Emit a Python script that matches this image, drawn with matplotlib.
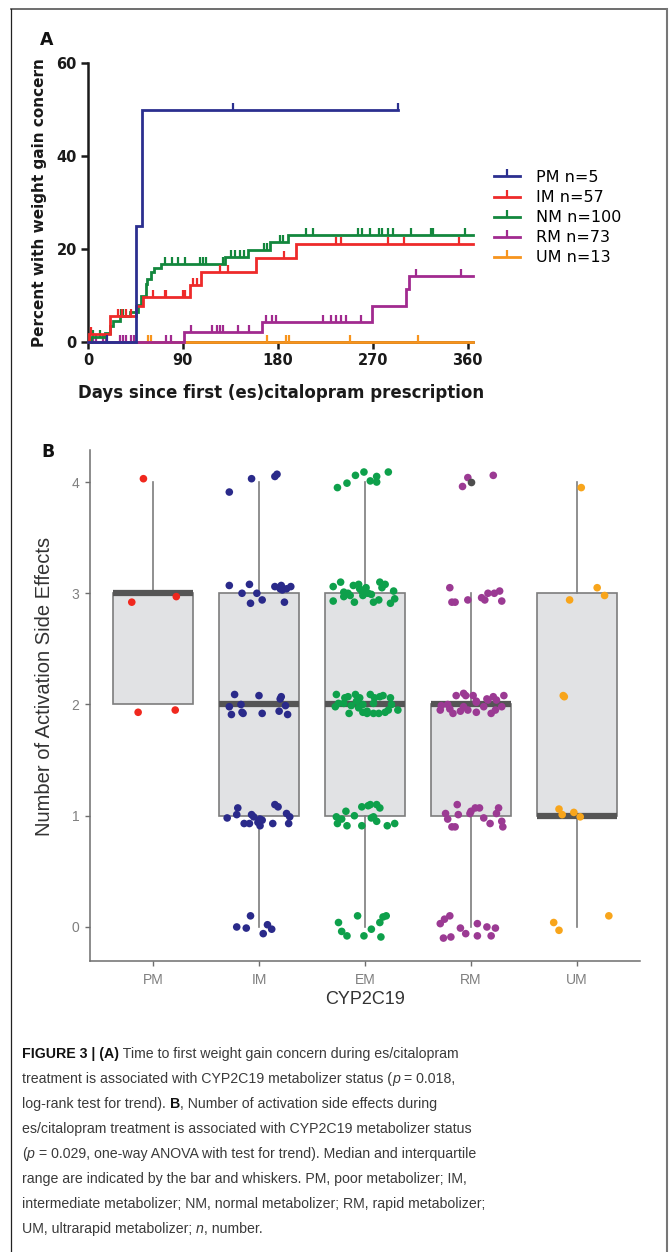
import numpy as np
import matplotlib
matplotlib.use('Agg')
import matplotlib.pyplot as plt
from matplotlib.lines import Line2D

# ---------- panel A: Kaplan-Meier style curves (days, percent) ----------
km_labels = ['PM n=5', 'IM n=57', 'NM n=100', 'RM n=73', 'UM n=13']
km_colors = ['#2b2f8f', '#ee2a2a', '#13873d', '#a12a8f', '#f7941d']

pm_t = [45.5, 51]
pm_pct = [25, 50]
pm_cens = [18, 137, 294]
pm_end = 294

im_t = [1, 20.5, 45.8, 52, 97, 107.4, 159.5, 197.3]
im_pct = [1.8, 5.5, 7.7, 9.7, 12.3, 15.0, 18.1, 21.0]
im_cens = [3, 28, 32, 36, 41, 62, 73, 74, 90, 92, 100, 103, 125, 133, 186,
           235, 240, 284, 300, 352]
im_end = 365

nm_t = [3, 16, 20.5, 23.7, 30, 39.5, 47.4, 50.5, 54.6, 56, 60, 63, 69.5,
        129.5, 151.6, 172.7, 189.5]
nm_pct = [1.0, 2.0, 3.5, 4.5, 5.5, 6.5, 8.0, 10.0, 12.5, 13.5, 15.0, 16.0,
          16.8, 18.3, 19.8, 21.4, 23.0]
nm_cens = [5, 11, 31, 33, 73, 80, 85, 92, 106, 109, 112, 128, 136, 139, 144,
           148, 167, 170, 182, 185, 207, 213, 256, 260, 267, 276, 279, 284,
           289, 306, 325, 327, 357]
nm_end = 365

rm_t = [90.6, 165, 269, 301.5, 304]
rm_pct = [2.1, 4.3, 7.7, 11.5, 14.3]
rm_cens = [5, 8, 14, 17, 30, 33, 36, 41, 44, 74, 79, 98, 118, 122, 125, 128,
           142, 153, 169, 174, 178, 223, 230, 235, 240, 245, 259, 311, 354]
rm_end = 365

um_t = []
um_pct = []
um_cens = [57, 60, 170, 188, 191, 248, 313]
um_end = 365

km_groups = [
    (pm_t, pm_pct, pm_cens, pm_end),
    (im_t, im_pct, im_cens, im_end),
    (nm_t, nm_pct, nm_cens, nm_end),
    (rm_t, rm_pct, rm_cens, rm_end),
    (um_t, um_pct, um_cens, um_end),
]

# ---------- panel B: box plot + jittered points ----------
groups = ['PM', 'IM', 'EM', 'RM', 'UM']
pt_colors = ['#f0281e', '#2a2a8a', '#0ea04b', '#9b3a93', '#f8a51b']
q1 = [2, 1, 1, 1, 1]
med = [3, 2, 2, 2, 1]
q3 = [3, 3, 3, 2, 3]
whislo = [2, 0, 0, 0, 0]
whishi = [4, 4, 4, 3, 4]
fliers = [[], [], [], [4], []]

pm_dx = [-0.09, -0.20, 0.22, -0.14, 0.21]
pm_y = [4.03, 2.92, 2.97, 1.93, 1.95]

im_dx = [-0.28, -0.07, 0.15, 0.17,
         -0.28, -0.16, -0.09, -0.08, -0.02, 0.03, 0.15, 0.21, 0.22, 0.26, 0.30, 0.24, 0.20,
         -0.23, 0.0, 0.20, 0.21, -0.28, -0.17, 0.25, -0.26, -0.16, -0.15, 0.03, 0.19, 0.27,
         -0.20, -0.21, -0.30, -0.07, -0.05, 0.01, -0.01, 0.01, -0.14, -0.09, 0.13, 0.15,
         0.18, 0.26, 0.29, 0.28, 0.03,
         -0.08, -0.21, -0.12, 0.08, 0.12, 0.04]
im_y = [3.91, 4.03, 4.05, 4.07,
        3.07, 3.0, 3.08, 2.91, 3.0, 2.94, 3.06, 3.07, 3.03, 3.04, 3.06, 2.92, 3.04,
        2.09, 2.08, 2.05, 2.07, 1.98, 2.0, 1.99, 1.91, 1.93, 1.92, 1.92, 1.94, 1.91,
        1.07, 1.01, 0.98, 1.01, 0.99, 0.97, 0.94, 0.91, 0.93, 0.93, 0.93, 1.10,
        1.08, 1.02, 0.99, 0.93, 0.96,
        0.10, 0.0, -0.01, 0.02, -0.02, -0.06]

em_dx = [-0.26, -0.17, -0.09, -0.01, 0.05, 0.11, 0.11, 0.22,
         -0.30, -0.23, -0.30, -0.20, -0.20, -0.16, -0.11, -0.06, -0.14, -0.10, -0.03,
         0.0, -0.02, 0.03, 0.14, 0.19, 0.16, 0.27, 0.28, 0.24, 0.13, 0.08, 0.06, 0.01, -0.05,
         -0.27, -0.19, -0.16, -0.09, -0.05, -0.28, -0.20, -0.25, -0.13, -0.15, -0.06,
         -0.02, 0.02, 0.05, 0.09, 0.14, 0.17, 0.24, 0.25, 0.08, -0.02, 0.02, 0.08, 0.13,
         0.19, 0.31, 0.22, -0.08,
         -0.18, -0.27, -0.22, -0.26, -0.17, -0.10, -0.03, -0.03, 0.03, 0.05, 0.11, 0.14,
         0.06, 0.11, 0.21, 0.28, 0.08,
         -0.25, -0.22, -0.17, -0.07, -0.01, 0.06, 0.15, 0.14, 0.17, 0.20]
em_y = [3.95, 3.99, 4.06, 4.09, 4.01, 4.05, 4.00, 4.09,
        3.06, 3.10, 2.93, 3.01, 2.97, 3.0, 3.07, 3.08, 2.98, 2.92, 3.02,
        3.0, 2.98, 3.0, 3.10, 3.08, 3.05, 3.02, 2.95, 2.91, 2.94, 2.92, 2.99, 3.05, 3.04,
        2.09, 2.06, 2.07, 2.09, 2.06, 1.98, 2.01, 2.01, 1.99, 1.92, 1.97,
        1.93, 1.92, 2.09, 2.06, 2.07, 2.08, 2.06, 2.0, 2.01, 2.0, 1.94, 1.92, 1.92,
        1.93, 1.95, 1.95, 2.03,
        1.04, 0.99, 0.97, 0.93, 0.91, 1.0, 1.08, 0.91, 1.09, 1.10, 1.10, 1.07,
        0.98, 0.95, 0.91, 0.93, 0.99,
        0.04, -0.04, -0.08, 0.10, -0.08, -0.02, -0.09, 0.04, 0.09, 0.10]

rm_dx = [-0.08, -0.03, 0.21,
         -0.20, -0.18, -0.15, -0.03, 0.10, 0.13, 0.16, 0.22, 0.27, 0.29,
         -0.14, -0.07, -0.05, 0.02, 0.15, 0.21, 0.31, 0.05, 0.05, 0.16, 0.24, -0.29,
         -0.28, -0.20, -0.22, -0.10, -0.07, -0.03, 0.05, 0.12, 0.19, 0.23, 0.29, -0.17,
         -0.13, -0.24, -0.22, -0.12, -0.18, -0.15, 0.0, 0.04, 0.08, -0.01, 0.12, 0.18,
         0.24, 0.26, 0.29, 0.30,
         -0.29, -0.25, -0.20, -0.26, -0.19, -0.10, -0.05, 0.06, 0.06, 0.15, 0.19, 0.23]
rm_y = [3.96, 4.04, 4.06,
        3.05, 2.92, 2.92, 2.94, 2.96, 2.94, 3.0, 3.0, 3.02, 2.93,
        2.08, 2.10, 2.08, 2.08, 2.05, 2.07, 2.08, 2.03, 2.02, 2.04, 2.04, 1.95,
        1.99, 1.96, 2.0, 1.94, 1.98, 1.95, 1.93, 1.98, 1.92, 1.95, 1.98, 1.92,
        1.10, 1.02, 0.97, 1.01, 0.90, 0.90, 1.04, 1.07, 1.07, 1.02, 0.98, 0.93,
        1.02, 1.07, 0.95, 0.90,
        0.03, 0.07, 0.10, -0.10, -0.09, -0.01, -0.06, 0.03, -0.08, 0.0, -0.08, -0.01]

um_dx = [0.04, 0.19, -0.07, 0.26, -0.13, -0.12, -0.17, -0.14, -0.03, 0.03, -0.22, -0.17, 0.30]
um_y = [3.95, 3.05, 2.94, 2.98, 2.08, 2.07, 1.06, 1.01, 1.03, 0.99, 0.04, -0.03, 0.10]

jitter = [(pm_dx, pm_y), (im_dx, im_y), (em_dx, em_y), (rm_dx, rm_y), (um_dx, um_y)]

caption = [
    [("FIGURE 3 | (A)", 'bold', 'normal'),
     (" Time to first weight gain concern during es/citalopram", 'normal', 'normal')],
    [("treatment is associated with CYP2C19 metabolizer status (", 'normal', 'normal'),
     ("p", 'normal', 'italic'), (" = 0.018,", 'normal', 'normal')],
    [("log-rank test for trend). ", 'normal', 'normal'), ("B", 'bold', 'normal'),
     (", Number of activation side effects during", 'normal', 'normal')],
    [("es/citalopram treatment is associated with CYP2C19 metabolizer status", 'normal', 'normal')],
    [("(", 'normal', 'normal'), ("p", 'normal', 'italic'),
     (" = 0.029, one-way ANOVA with test for trend). Median and interquartile", 'normal', 'normal')],
    [("range are indicated by the bar and whiskers. PM, poor metabolizer; IM,", 'normal', 'normal')],
    [("intermediate metabolizer; NM, normal metabolizer; RM, rapid metabolizer;", 'normal', 'normal')],
    [("UM, ultrarapid metabolizer; ", 'normal', 'normal'), ("n", 'normal', 'italic'),
     (", number.", 'normal', 'normal')],
]

W, H = 670, 1252
fig = plt.figure(figsize=(W / 100, H / 100), dpi=100)


def fx(px):
    return px / W


def fy(py):
    return 1 - py / H


# frame round the figure
fig.add_artist(Line2D([fx(11), fx(667)], [fy(9), fy(9)], color='#555555', lw=1.2))
fig.add_artist(Line2D([fx(11), fx(11)], [fy(9), 0], color='#222222', lw=0.9))
fig.add_artist(Line2D([fx(667), fx(667)], [fy(9), 0], color='#777777', lw=1.5))

# ---------- panel A ----------
ax_a = fig.add_axes([fx(88), fy(342), fx(473) - fx(88), fy(63) - fy(342)])
order = [4, 3, 2, 1, 0]
for i in order:
    t, pct, cens, end = km_groups[i]
    xs = [0] + list(t) + [end]
    ys = [0] + list(pct) + [pct[-1] if pct else 0]
    ax_a.step(xs, ys, where='post', color=km_colors[i], lw=2, zorder=3 + (4 - i),
              solid_joinstyle='miter', clip_on=False)
    levels = np.array([0] + list(pct))
    cy = levels[np.searchsorted(np.array(t), cens, side='right')]
    ax_a.plot(cens, cy, ls='none', marker=2, ms=5, mew=1.6, color=km_colors[i],
              zorder=3 + (4 - i), clip_on=False)

ax_a.set_xlim(0, 365)
ax_a.set_ylim(0, 60)
ax_a.set_xticks([0, 90, 180, 270, 360])
ax_a.set_yticks([0, 20, 40, 60])
for s in ['top', 'right']:
    ax_a.spines[s].set_visible(False)
for s in ['left', 'bottom']:
    ax_a.spines[s].set_linewidth(1.8)
    ax_a.spines[s].set_color('#1a1a1a')
ax_a.tick_params(width=1.8, length=5, color='#1a1a1a', labelsize=10.5, pad=3)
for lab in ax_a.get_xticklabels() + ax_a.get_yticklabels():
    lab.set_fontweight('bold')
    lab.set_color('#1a1a1a')

fig.text(fx(281), fy(393), 'Days since first (es)citalopram prescription',
         ha='center', va='center', fontsize=12, fontweight='bold', color='#1a1a1a')
fig.text(fx(40), fy(203), 'Percent with weight gain concern', rotation=90,
         ha='center', va='center', fontsize=11, fontweight='bold', color='#1a1a1a')
fig.text(fx(47), fy(40), 'A', ha='center', va='center', fontsize=12.5,
         fontweight='bold', color='#111111')

handles = [Line2D([0], [0], color=c, lw=2, marker=2, ms=5, mew=1.6) for c in km_colors]
fig.legend(handles, km_labels, loc='upper left', bbox_to_anchor=(fx(494), fy(170)),
           frameon=False, fontsize=11.5, handlelength=1.6, handletextpad=1.0,
           labelspacing=0.32, numpoints=1, borderaxespad=0, borderpad=0)

# ---------- panel B ----------
ax_b = fig.add_axes([fx(90), fy(961), fx(640) - fx(90), fy(450) - fy(961)])
pos = np.arange(1, len(groups) + 1)
stats = []
for i in range(len(groups)):
    stats.append(dict(med=med[i], q1=q1[i], q3=q3[i], whislo=whislo[i],
                      whishi=whishi[i], fliers=fliers[i]))
ax_b.bxp(stats, positions=pos, widths=0.75, patch_artist=True, showcaps=False,
         boxprops=dict(facecolor='#e1e2e4', edgecolor='#7d7d7d', lw=1.2),
         whiskerprops=dict(color='#7d7d7d', lw=1.2),
         medianprops=dict(color='#555555', lw=4.5, solid_capstyle='butt'),
         flierprops=dict(marker='o', markerfacecolor='#4d4d4d', markeredgecolor='none',
                         markersize=5.5, zorder=6),
         zorder=2)
for i, (dx, yv) in enumerate(jitter):
    ax_b.scatter(pos[i] + np.array(dx), yv, s=30, color=pt_colors[i],
                 edgecolors='none', zorder=4)
ax_b.set_xlim(0.406, 5.594)
ax_b.set_ylim(-0.306, 4.288)
ax_b.set_yticks([0, 1, 2, 3, 4])
ax_b.set_xticks(pos)
ax_b.set_xticklabels(groups)
for s in ['top', 'right']:
    ax_b.spines[s].set_visible(False)
for s in ['left', 'bottom']:
    ax_b.spines[s].set_linewidth(1.1)
    ax_b.spines[s].set_color('#6e6e6e')
ax_b.tick_params(width=1.0, length=3.5, color='#6e6e6e', labelcolor='#7f7f7f',
                 labelsize=10, pad=4)
ax_b.tick_params(axis='x', pad=5)
for lab in ax_b.get_xticklabels() + ax_b.get_yticklabels():
    lab.set_family('Liberation Sans')

fig.text(fx(365), fy(1000), 'CYP2C19', ha='center', va='center', fontsize=13,
         color='#333333', family='Liberation Sans')
fig.text(fx(45), fy(686), 'Number of Activation Side Effects', rotation=90,
         ha='center', va='center', fontsize=14.5, color='#333333', family='Liberation Sans')
fig.text(fx(48), fy(452), 'B', ha='center', va='center', fontsize=12.5,
         fontweight='bold', color='#111111')

# ---------- caption ----------
cap_size = 10.2
for k, line in enumerate(caption):
    y = fy(1061 + 25 * k)
    last = None
    for s, wt, st in line:
        col = '#111111' if wt == 'bold' else '#3a3a3a'
        if last is None:
            last = fig.text(fx(22), y, s, ha='left', va='bottom', fontsize=cap_size,
                            fontweight=wt, fontstyle=st, color=col, family='Liberation Sans')
        else:
            last = ax_a.annotate(s, xy=(1, 0), xycoords=last, ha='left', va='bottom',
                                 fontsize=cap_size, fontweight=wt, fontstyle=st,
                                 color=col, family='Liberation Sans', annotation_clip=False)

fig.savefig('out.png', dpi=100)
